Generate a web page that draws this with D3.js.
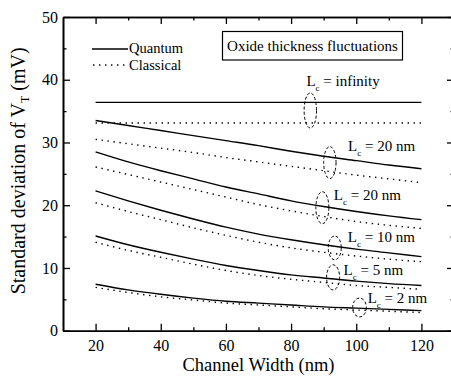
<!DOCTYPE html>
<html>
<head>
<meta charset="utf-8">
<script src="https://cdn.jsdelivr.net/npm/d3@7"></script>
<style>
  body { margin: 0; background: #fff; }
  svg { display: block; }
  svg text { font-family: 'Liberation Serif', 'Times New Roman', serif; }
</style>
</head>
<body>
<div class="canvas"></div>
<script>
// channel widths (nm)
const widths = [20, 30, 40, 50, 60, 70, 80, 90, 100, 110, 120];

// standard deviation of VT (mV)
const quantumInf   = [36.4, 36.4, 36.4, 36.4, 36.4, 36.4, 36.4, 36.4, 36.4, 36.4, 36.4];
const classicalInf = [33.1, 33.1, 33.1, 33.1, 33.1, 33.1, 33.1, 33.1, 33.1, 33.1, 33.1];
const quantum20a   = [33.5, 32.7, 31.9, 31.1, 30.3, 29.5, 28.6, 27.8, 27.1, 26.4, 25.8];
const classical20a = [30.5, 29.8, 29.1, 28.4, 27.6, 26.9, 26.2, 25.5, 24.8, 24.2, 23.6];
const quantum20b   = [28.5, 26.9, 25.5, 24.2, 22.9, 21.8, 20.7, 19.8, 19.0, 18.3, 17.7];
const classical20b = [26.1, 24.9, 23.7, 22.5, 21.3, 20.1, 19.1, 18.2, 17.4, 16.8, 16.3];
const quantum10    = [22.3, 20.7, 19.2, 17.8, 16.5, 15.4, 14.5, 13.7, 13.0, 12.4, 11.8];
const classical10  = [20.4, 19.0, 17.7, 16.4, 15.2, 14.1, 13.2, 12.5, 11.9, 11.4, 11.0];
const quantum5     = [15.1, 13.7, 12.5, 11.4, 10.4, 9.6, 8.9, 8.4, 7.9, 7.5, 7.2];
const classical5   = [14.1, 12.8, 11.7, 10.6, 9.6, 8.8, 8.2, 7.7, 7.2, 6.9, 6.6];
const quantum2     = [7.4, 6.5, 5.8, 5.2, 4.7, 4.4, 4.1, 3.8, 3.6, 3.4, 3.2];
const classical2   = [6.9, 6.1, 5.4, 4.9, 4.4, 4.1, 3.8, 3.5, 3.3, 3.1, 2.9];

const quantumSeries   = [quantumInf, quantum20a, quantum20b, quantum10, quantum5, quantum2];
const classicalSeries = [classicalInf, classical20a, classical20b, classical10, classical5, classical2];

// Lc annotations: label text, label anchor (W, mV), ellipse centre (W, mV) and radii
const lcLabels = ['infinity', '20 nm', '20 nm', '10 nm', '5 nm', '2 nm'];
const labelW   = [84.7, 97.5, 93.1, 97.4, 96.1, 103.5];
const labelV   = [39.0, 28.7, 20.8, 14.1, 8.8, 4.4];
const ellW     = [85.9, 91.9, 89.6, 93.4, 92.9, 101.0];
const ellV     = [35.1, 26.8, 19.6, 13.2, 8.5, 3.7];
const ellRW    = [1.9, 1.9, 2.0, 2.0, 2.0, 2.1];
const ellRV    = [2.8, 2.55, 2.55, 1.9, 2.0, 1.5];

const xTicks = [20, 40, 60, 80, 100, 120];
const yTicks = [0, 10, 20, 30, 40, 50];

const width = 451, height = 385;
const plotLeft = 63, plotTop = 17, plotRight = 454, plotBottom = 330.7;
const serif = 'Liberation Serif, Times New Roman, serif';

const svg = d3.select('.canvas')
  .append('svg')
  .attr('width', width)
  .attr('height', height)
  .attr('font-family', serif);

const x = d3.scaleLinear().domain([10, 130]).range([plotLeft, plotRight]);
const y = d3.scaleLinear().domain([0, 50]).range([plotBottom, plotTop]);

// curves
const line = d3.line()
  .x((d, i) => x(widths[i]))
  .y(d => y(d))
  .curve(d3.curveMonotoneX);

svg.append('g').selectAll('path.q')
  .data(quantumSeries)
  .enter().append('path')
  .attr('class', 'q')
  .attr('fill', 'none')
  .attr('stroke', '#000')
  .attr('stroke-width', 1.4)
  .attr('d', line);

svg.append('g').selectAll('path.c')
  .data(classicalSeries)
  .enter().append('path')
  .attr('class', 'c')
  .attr('fill', 'none')
  .attr('stroke', '#000')
  .attr('stroke-width', 1.4)
  .attr('stroke-dasharray', '1.4,4.6')
  .attr('d', line);

// axes (ticks inside, mirrored on top/right)
const tickLen = 7, minorLen = 3.5;
const xMinor = d3.range(30, 120, 20);
const yMinor = d3.range(5, 50, 10);

const axes = svg.append('g');
axes.append('g').attr('transform', `translate(0, ${plotBottom})`)
  .call(d3.axisBottom(x).tickValues(xTicks).tickSizeInner(-tickLen).tickSizeOuter(0).tickPadding(9));
axes.append('g').attr('transform', `translate(0, ${plotBottom})`)
  .call(d3.axisBottom(x).tickValues(xMinor).tickSizeInner(-minorLen).tickSizeOuter(0).tickFormat(''));
axes.append('g').attr('transform', `translate(0, ${plotTop})`)
  .call(d3.axisTop(x).tickValues(xTicks).tickSizeInner(-tickLen).tickSizeOuter(0).tickFormat(''));
axes.append('g').attr('transform', `translate(0, ${plotTop})`)
  .call(d3.axisTop(x).tickValues(xMinor).tickSizeInner(-minorLen).tickSizeOuter(0).tickFormat(''));
axes.append('g').attr('transform', `translate(${plotLeft}, 0)`)
  .call(d3.axisLeft(y).tickValues(yTicks).tickSizeInner(-tickLen).tickSizeOuter(0).tickPadding(5));
axes.append('g').attr('transform', `translate(${plotLeft}, 0)`)
  .call(d3.axisLeft(y).tickValues(yMinor).tickSizeInner(-minorLen).tickSizeOuter(0).tickFormat(''));
axes.append('g').attr('transform', `translate(${plotRight}, 0)`)
  .call(d3.axisRight(y).tickValues(yTicks).tickSizeInner(-tickLen).tickSizeOuter(0).tickFormat(''));
axes.append('g').attr('transform', `translate(${plotRight}, 0)`)
  .call(d3.axisRight(y).tickValues(yMinor).tickSizeInner(-minorLen).tickSizeOuter(0).tickFormat(''));

axes.selectAll('g').attr('font-family', serif);
axes.selectAll('.domain').attr('stroke', '#000').attr('stroke-width', 1.6);
axes.selectAll('.tick line').attr('stroke', '#000').attr('stroke-width', 1.3);
axes.selectAll('.tick text')
  .attr('fill', '#000')
  .attr('font-size', 16);

// axis titles
svg.append('text')
  .attr('x', (x(20) + x(120)) / 2)
  .attr('y', 371)
  .attr('text-anchor', 'middle')
  .attr('font-size', 18.5)
  .text('Channel Width (nm)');

const yTitle = svg.append('text')
  .attr('transform', `translate(25, ${(plotTop + plotBottom) / 2 - 3}) rotate(-90)`)
  .attr('text-anchor', 'middle')
  .attr('font-size', 20);
yTitle.append('tspan').text('Standard deviation of V');
yTitle.append('tspan').attr('dy', 4).attr('font-size', 12).text('T');
yTitle.append('tspan').attr('dy', -4).text(' (mV)');

// legend
const legend = svg.append('g');
legend.append('line')
  .attr('x1', 92).attr('x2', 128).attr('y1', 49).attr('y2', 49)
  .attr('stroke', '#000').attr('stroke-width', 1.4);
legend.append('text').attr('x', 129).attr('y', 53).attr('font-size', 14.5).text('Quantum');
legend.append('line')
  .attr('x1', 93).attr('x2', 128).attr('y1', 65).attr('y2', 65)
  .attr('stroke', '#000').attr('stroke-width', 1.4).attr('stroke-dasharray', '1.4,4.6');
legend.append('text').attr('x', 129).attr('y', 69.5).attr('font-size', 14.5).text('Classical');

// boxed note
svg.append('rect')
  .attr('x', 222.5).attr('y', 31.5).attr('width', 180).attr('height', 28.5)
  .attr('fill', 'none').attr('stroke', '#000').attr('stroke-width', 1.2);
svg.append('text')
  .attr('x', 312.5).attr('y', 51)
  .attr('text-anchor', 'middle')
  .attr('font-size', 15)
  .text('Oxide thickness fluctuations');

// Lc labels and dashed ellipses
const notes = svg.append('g');
lcLabels.forEach((lab, i) => {
  const t = notes.append('text')
    .attr('x', x(labelW[i]))
    .attr('y', y(labelV[i]))
    .attr('font-size', 15);
  t.append('tspan').text('L');
  t.append('tspan').attr('dy', 5).attr('font-size', 9).text('c');
  t.append('tspan').attr('dy', -5).text(' = ' + lab);

  notes.append('ellipse')
    .attr('cx', x(ellW[i]))
    .attr('cy', y(ellV[i]))
    .attr('rx', x(ellW[i] + ellRW[i]) - x(ellW[i]))
    .attr('ry', y(ellV[i]) - y(ellV[i] + ellRV[i]))
    .attr('fill', 'none')
    .attr('stroke', '#000')
    .attr('stroke-width', 1)
    .attr('stroke-dasharray', '3,2');
});
</script>
</body>
</html>
